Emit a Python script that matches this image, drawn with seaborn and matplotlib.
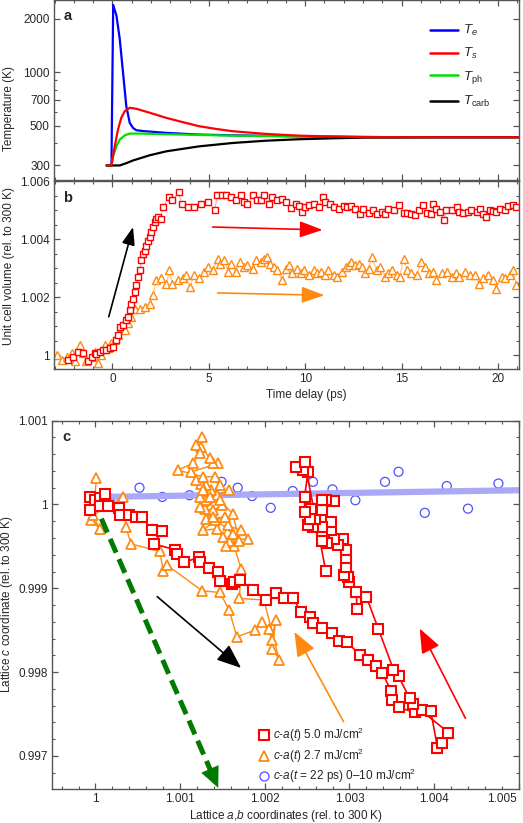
import numpy as np
import pandas as pd
import matplotlib
matplotlib.use("Agg")
import matplotlib.pyplot as plt
import matplotlib.transforms as mtransforms
from matplotlib.lines import Line2D
from matplotlib.ticker import FixedLocator, MultipleLocator, NullFormatter
import seaborn as sns

sns.set_style("ticks")
plt.rcParams['font.family'] = ['Liberation Sans', 'DejaVu Sans']
plt.rcParams['mathtext.fontset'] = 'custom'
plt.rcParams['mathtext.rm'] = 'Liberation Sans'
plt.rcParams['mathtext.it'] = 'Liberation Sans:italic'
plt.rcParams['mathtext.bf'] = 'Liberation Sans:bold'

# ---- panel a: temperatures (K) vs time delay (ps)
te_t = [-0.3, -0.05, 0.04, 0.21, 0.38, 0.55, 0.72, 0.9, 1.07, 1.24, 1.58, 2.79, 4.5, 6.2, 9.7, 14.8, 21.1]
te_T = [300, 300, 2390, 2080, 1540, 997, 646, 520, 487, 473, 468, 457, 447, 443, 437, 432, 432]
ts_t = [-0.3, -0.05, 0.12, 0.29, 0.46, 0.64, 0.9, 1.24, 1.93, 2.79, 3.65, 4.5, 5.37, 6.23, 7.95, 9.68, 11.4, 13.1, 21.1]
ts_T = [300, 300, 384, 477, 555, 605, 632, 624, 593, 555, 525, 498, 481, 467, 451, 441, 436, 432, 432]
tph_t = [-0.3, -0.05, 0.03, 0.21, 0.38, 0.64, 0.9, 1.41, 2.79, 6.23, 9.68, 14.8, 21.1]
tph_T = [300, 300, 337, 384, 419, 443, 453, 453, 449, 441, 436, 432, 432]
tc_t = [-0.3, -0.05, 0.38, 0.72, 1.07, 1.93, 2.79, 4.5, 6.23, 7.95, 9.68, 11.4, 13.1, 16.6, 21.1]
tc_T = [300, 300, 300, 309, 320, 342, 360, 384, 401, 413, 421, 426, 430, 432, 432]
temp_labels = [r"$T_e$", r"$T_s$", r"$T_{\rm ph}$", r"$T_{\rm carb}$"]

# ---- panel b: unit cell volume vs time delay
red_t = [-2.30, -2.03, -1.77, -1.50, -1.26, -1.08, -0.90, -0.83, -0.65, -0.48, -0.31, -0.14, 0.03,
         0.20, 0.30, 0.41, 0.55, 0.69, 0.80, 0.90, 0.98, 1.07, 1.15, 1.24, 1.33, 1.41, 1.50, 1.58,
         1.67, 1.76, 1.84, 1.93, 2.00, 2.10, 2.19, 2.27, 2.36, 2.53, 2.60, 2.96, 3.10, 3.43, 3.60,
         3.90, 4.25, 4.60, 4.95, 5.30, 5.45, 5.70, 5.90, 6.15, 6.40, 6.66, 6.84, 7.00, 7.27, 7.50,
         7.70, 7.87, 8.10, 8.30, 8.56, 8.80, 9.00, 9.25, 9.50, 9.70, 9.85, 10.00, 10.20, 10.45,
         10.70, 10.90, 11.05, 11.30, 11.50, 11.75, 12.00, 12.17, 12.40, 12.60, 12.86, 13.00, 13.30,
         13.50, 13.70, 14.00, 14.15, 14.30, 14.60, 14.85, 15.10, 15.30, 15.50, 15.70, 15.90, 16.10,
         16.30, 16.50, 16.65, 16.80, 17.00, 17.20, 17.30, 17.60, 17.85, 18.00, 18.20, 18.45, 18.60,
         18.90, 19.06, 19.20, 19.40, 19.60, 19.75, 19.90, 20.10, 20.35, 20.50, 20.80, 20.95]
red_V = [0.99984, 0.99995, 1.00013, 1.00009, 0.99979, 0.99995, 1.00009, 1.00005, 1.00013, 1.00018,
         1.00018, 1.00024, 1.00030, 1.00053, 1.00070, 1.00098, 1.00104, 1.00121, 1.00132, 1.00155,
         1.00178, 1.00195, 1.00218, 1.00241, 1.00270, 1.00293, 1.00327, 1.00350, 1.00361, 1.00378,
         1.00395, 1.00407, 1.00424, 1.00442, 1.00459, 1.00471, 1.00476, 1.00471, 1.00511, 1.00545,
         1.00534, 1.00562, 1.00522, 1.00511, 1.00511, 1.00522, 1.00528, 1.00502, 1.00551, 1.00551,
         1.00554, 1.00545, 1.00536, 1.00551, 1.00528, 1.00522, 1.00551, 1.00534, 1.00534, 1.00551,
         1.00522, 1.00545, 1.00534, 1.00540, 1.00528, 1.00508, 1.00522, 1.00516, 1.00494, 1.00511,
         1.00519, 1.00522, 1.00511, 1.00545, 1.00528, 1.00522, 1.00511, 1.00505, 1.00513, 1.00511,
         1.00516, 1.00505, 1.00488, 1.00505, 1.00490, 1.00502, 1.00488, 1.00494, 1.00488, 1.00505,
         1.00499, 1.00517, 1.00490, 1.00490, 1.00488, 1.00484, 1.00499, 1.00517, 1.00490, 1.00488,
         1.00522, 1.00505, 1.00494, 1.00465, 1.00499, 1.00499, 1.00511, 1.00494, 1.00490, 1.00494,
         1.00499, 1.00494, 1.00505, 1.00488, 1.00476, 1.00499, 1.00497, 1.00494, 1.00505, 1.00502,
         1.00513, 1.00517, 1.00511]
org_t = [-2.90, -2.63, -2.38, -2.10, -1.95, -1.70, -1.50, -1.35, -1.08, -0.90, -0.74, -0.57, -0.40,
         -0.22, -0.05, 0.12, 0.30, 0.46, 0.64, 0.80, 0.98, 1.15, 1.41, 1.67, 1.93, 2.10, 2.27, 2.53,
         2.80, 2.96, 3.10, 3.40, 3.65, 3.80, 4.00, 4.25, 4.50, 4.77, 4.95, 5.20, 5.46, 5.60, 5.80,
         6.00, 6.15, 6.40, 6.60, 6.85, 7.00, 7.27, 7.44, 7.70, 7.87, 8.00, 8.20, 8.40, 8.56, 8.80,
         9.00, 9.16, 9.33, 9.60, 9.76, 9.93, 10.20, 10.45, 10.60, 10.80, 11.05, 11.20, 11.50, 11.65,
         11.90, 12.10, 12.26, 12.40, 12.60, 12.80, 12.95, 13.10, 13.30, 13.46, 13.70, 13.90, 14.15,
         14.30, 14.50, 14.75, 14.90, 15.10, 15.27, 15.50, 15.80, 16.00, 16.20, 16.40, 16.65, 16.80,
         17.10, 17.35, 17.60, 17.80, 18.00, 18.30, 18.55, 18.80, 19.00, 19.20, 19.50, 19.75, 19.90,
         20.20, 20.35, 20.60, 20.80, 20.95]
org_V = [1.00001, 0.99984, 0.99995, 1.00007, 0.99982, 1.00036, 1.00007, 0.99979, 0.99995, 1.00013,
         0.99975, 1.00001, 1.00036, 1.00024, 1.00041, 1.00053, 1.00070, 1.00098, 1.00087, 1.00110,
         1.00133, 1.00161, 1.00161, 1.00167, 1.00178, 1.00207, 1.00259, 1.00265, 1.00247, 1.00293,
         1.00247, 1.00259, 1.00265, 1.00276, 1.00236, 1.00276, 1.00265, 1.00288, 1.00305, 1.00293,
         1.00333, 1.00316, 1.00328, 1.00288, 1.00316, 1.00288, 1.00322, 1.00305, 1.00311, 1.00299,
         1.00328, 1.00322, 1.00333, 1.00339, 1.00316, 1.00305, 1.00293, 1.00259, 1.00299, 1.00311,
         1.00282, 1.00299, 1.00282, 1.00293, 1.00276, 1.00293, 1.00282, 1.00288, 1.00276, 1.00293,
         1.00276, 1.00270, 1.00288, 1.00305, 1.00311, 1.00322, 1.00311, 1.00316, 1.00305, 1.00282,
         1.00299, 1.00339, 1.00293, 1.00305, 1.00270, 1.00282, 1.00293, 1.00276, 1.00270, 1.00333,
         1.00293, 1.00282, 1.00276, 1.00322, 1.00305, 1.00282, 1.00288, 1.00259, 1.00282, 1.00288,
         1.00270, 1.00282, 1.00270, 1.00288, 1.00276, 1.00276, 1.00247, 1.00265, 1.00276, 1.00259,
         1.00230, 1.00270, 1.00265, 1.00276, 1.00293, 1.00242]

# ---- panel c: lattice c vs lattice a,b
hi_a = [0.99993, 0.99999, 0.99993, 1.00005, 1.00011, 1.00005, 1.00015, 1.00028, 1.00029, 1.00040,
        1.00048, 1.00055, 1.00067, 1.00078, 1.00069, 1.00094, 1.00096, 1.00105, 1.00122, 1.00123,
        1.00134, 1.00145, 1.00147, 1.00161, 1.00164, 1.00171, 1.00186, 1.00202, 1.00213, 1.00223,
        1.00233, 1.00243, 1.00253, 1.00257, 1.00268, 1.00279, 1.00288, 1.00297, 1.00313, 1.00322,
        1.00331, 1.00339, 1.00349, 1.00350, 1.00358, 1.00377, 1.00386, 1.00396, 1.00404, 1.00409,
        1.00417, 1.00375, 1.00371, 1.00358, 1.00352, 1.00334, 1.00320, 1.00309, 1.00308, 1.00299,
        1.00298, 1.00294, 1.00296, 1.00296, 1.00296, 1.00292, 1.00286, 1.00282, 1.00274, 1.00278,
        1.00268, 1.00267, 1.00278, 1.00267, 1.00257, 1.00251, 1.00259, 1.00253, 1.00267, 1.00282,
        1.00272, 1.00267, 1.00255, 1.00247, 1.00247, 1.00251, 1.00245, 1.00237, 1.00247, 1.00272]
hi_c = [1.00009, 1.00005, 0.99993, 1.00008, 1.00012, 0.99998, 0.99998, 0.99996, 0.99988, 0.99988,
        0.99985, 0.99985, 0.99969, 0.99968, 0.99953, 0.99946, 0.99941, 0.99931, 0.99937, 0.99931,
        0.99924, 0.99919, 0.99909, 0.99905, 0.99908, 0.99910, 0.99898, 0.99886, 0.99894, 0.99888,
        0.99888, 0.99872, 0.99866, 0.99859, 0.99853, 0.99847, 0.99837, 0.99836, 0.99820, 0.99814,
        0.99807, 0.99799, 0.99778, 0.99767, 0.99758, 0.99752, 0.99755, 0.99754, 0.99710, 0.99715,
        0.99728, 0.99762, 0.99769, 0.99795, 0.99803, 0.99852, 0.99890, 0.99875, 0.99895, 0.99907,
        0.99914, 0.99916, 0.99926, 0.99936, 0.99946, 0.99959, 0.99952, 0.99959, 0.99954, 0.99969,
        0.99963, 0.99956, 0.99979, 0.99973, 0.99973, 0.99975, 0.99983, 0.99983, 0.99994, 1.00004,
        1.00005, 1.00005, 0.99995, 0.99991, 1.00009, 1.00039, 1.00041, 1.00045, 1.00051, 0.99921]
lo_a = [1.00001, 0.99999, 0.99995, 1.00005, 0.99997, 1.00033, 1.00036, 1.00042, 1.00076, 1.00080,
        1.00084, 1.00126, 1.00147, 1.00158, 1.00167, 1.00188, 1.00197, 1.00205, 1.00208, 1.00213,
        1.00209, 1.00217, 1.00199, 1.00170, 1.00172, 1.00164, 1.00158, 1.00180, 1.00172, 1.00156,
        1.00151, 1.00143, 1.00127, 1.00141, 1.00153, 1.00131, 1.00149, 1.00139, 1.00129, 1.00158,
        1.00143, 1.00131, 1.00123, 1.00137, 1.00131, 1.00125, 1.00119, 1.00113, 1.00145, 1.00139,
        1.00135, 1.00125, 1.00119, 1.00126, 1.00123, 1.00115, 1.00097, 1.00127, 1.00141, 1.00147,
        1.00135, 1.00123, 1.00139, 1.00162, 1.00154, 1.00170, 1.00162, 1.00147, 1.00127]
lo_c = [1.00031, 1.00005, 0.99981, 0.99971, 0.99987, 1.00009, 0.99973, 0.99953, 0.99944, 0.99921,
        0.99928, 0.99897, 0.99895, 0.99874, 0.99842, 0.99850, 0.99860, 0.99851, 0.99838, 0.99862,
        0.99828, 0.99815, 0.99886, 0.99888, 0.99923, 0.99950, 0.99957, 0.99959, 0.99969, 0.99975,
        0.99961, 0.99971, 0.99969, 0.99981, 0.99985, 0.99983, 0.99999, 0.99993, 0.99995, 1.00017,
        1.00011, 1.00005, 1.00009, 1.00017, 1.00023, 1.00025, 1.00029, 1.00039, 1.00049, 1.00049,
        1.00055, 1.00069, 1.00071, 1.00081, 1.00061, 1.00049, 1.00041, 1.00033, 1.00033, 1.00023,
        1.00009, 0.99997, 0.99985, 0.99965, 0.99950, 0.99957, 0.99989, 1.00005, 1.00017]
eq_a = [1.00017, 1.00025, 1.00052, 1.00079, 1.00111, 1.00149, 1.00168, 1.00185, 1.00207, 1.00233,
        1.00257, 1.00280, 1.00307, 1.00342, 1.00358, 1.00389, 1.00415, 1.00440, 1.00476]
eq_c = [1.00007, 1.00005, 1.00020, 1.00009, 1.00011, 1.00027, 1.00020, 1.00010, 0.99996, 1.00016,
        1.00027, 1.00018, 1.00005, 1.00027, 1.00039, 0.99990, 1.00022, 0.99995, 1.00025]
fit_a = [1.00009, 1.00502]
fit_c = [1.00009, 1.00017]
ca_labels = [r"$c$-$a$($t$) 5.0 mJ/cm$^2$", r"$c$-$a$($t$) 2.7 mJ/cm$^2$",
             r"$c$-$a$($t$ = 22 ps) 0–10 mJ/cm$^2$"]

RED = '#ff0000'
ORG = '#ff8a12'
BLUE = '#5050ff'
FS = 8.5

fig = plt.figure(figsize=(5.23, 8.23), dpi=100)
ax_a = fig.add_axes([54/523, 0.7807, 465/523, 0.2187])
ax_b = fig.add_axes([54/523, 0.5516, 465/523, 0.2290], sharex=ax_a)
ax_c = fig.add_axes([52.3/523, 0.0410, 466.7/523, 0.4479])


def frame(ax):
    for s in ax.spines.values():
        s.set_color('#555555')
        s.set_linewidth(1.0)
    ax.tick_params(which='both', direction='in', top=True, right=True, color='#555555',
                   labelsize=FS, pad=3)
    ax.tick_params(which='major', length=4, width=0.9)
    ax.tick_params(which='minor', length=2.5, width=0.8)


# a) temperatures
sns.lineplot(x=te_t, y=te_T, ax=ax_a, color='#0000ff', lw=1.6, sort=False, estimator=None)
sns.lineplot(x=tph_t, y=tph_T, ax=ax_a, color='#00e000', lw=1.6, sort=False, estimator=None)
sns.lineplot(x=tc_t, y=tc_T, ax=ax_a, color='black', lw=1.6, sort=False, estimator=None)
sns.lineplot(x=ts_t, y=ts_T, ax=ax_a, color='#ff0000', lw=1.6, sort=False, estimator=None)
ax_a.set_yscale('log')
ax_a.set_ylim(247, 2530)
ax_a.set_xlim(-3.03, 21.09)
ax_a.yaxis.set_major_locator(FixedLocator([300, 500, 700, 1000, 2000]))
ax_a.yaxis.set_minor_locator(FixedLocator([400, 600, 800, 900]))
ax_a.yaxis.set_major_formatter(matplotlib.ticker.FixedFormatter(['300', '500', '700', '1000', '2000']))
ax_a.yaxis.set_minor_formatter(NullFormatter())
ax_a.xaxis.set_major_locator(MultipleLocator(5))
ax_a.xaxis.set_minor_locator(MultipleLocator(1))
frame(ax_a)
ax_a.tick_params(labelbottom=False)
ax_a.set_ylabel("Temperature (K)", fontsize=FS)
ax_a.yaxis.set_label_coords(-0.083, 0.40)
ax_a.text(0.02, 0.915, "a", transform=ax_a.transAxes, fontsize=10.5, fontweight='bold', va='center')
hand = [Line2D([], [], color=c, lw=1.8) for c in ['#0000ff', '#ff0000', '#00e000', 'black']]
ax_a.legend(hand, temp_labels, loc='upper right', bbox_to_anchor=(0.965, 0.94), frameon=False,
            fontsize=9.5, handlelength=2.1, labelspacing=0.6, handletextpad=0.4)

# b) unit cell volume
sns.lineplot(x=org_t, y=org_V, ax=ax_b, color='#ffc58a', lw=0.8, sort=False, estimator=None,
             marker='^', ms=5.5, mfc='white', mec=ORG, mew=1.0)
sns.lineplot(x=red_t, y=red_V, ax=ax_b, color='#ffa8a8', lw=0.8, sort=False, estimator=None,
             marker='s', ms=4.5, mfc='white', mec=RED, mew=1.0)
ax_b.set_ylim(0.99953, 1.00602)
ax_b.yaxis.set_major_locator(FixedLocator([1.0, 1.002, 1.004, 1.006]))
ax_b.yaxis.set_major_formatter(matplotlib.ticker.FixedFormatter(['1', '1.002', '1.004', '1.006']))
ax_b.yaxis.set_minor_locator(MultipleLocator(0.0005))
frame(ax_b)
ax_b.set_xlabel("Time delay (ps)", fontsize=FS)
ax_b.xaxis.set_label_coords(0.542, -0.105)
ax_b.set_ylabel("Unit cell volume (rel. to 300 K)", fontsize=FS)
ax_b.yaxis.set_label_coords(-0.083, 0.545)
ax_b.text(0.02, 0.905, "b", transform=ax_b.transAxes, fontsize=10.5, fontweight='bold', va='center')
ax_b.annotate('', xy=(1.07, 1.00442), xytext=(-0.19, 1.00133),
              arrowprops=dict(arrowstyle='-|>,head_length=0.6,head_width=0.22', color='black',
                              lw=1.2, mutation_scale=18, shrinkA=0, shrinkB=0))
ax_b.annotate('', xy=(10.9, 1.00432), xytext=(5.2, 1.00442),
              arrowprops=dict(arrowstyle='-|>,head_length=0.7,head_width=0.25', color=RED,
                              lw=1.2, mutation_scale=20, shrinkA=0, shrinkB=0))
ax_b.annotate('', xy=(11.0, 1.00207), xytext=(5.46, 1.00215),
              arrowprops=dict(arrowstyle='-|>,head_length=0.7,head_width=0.25', color=ORG,
                              lw=1.2, mutation_scale=20, shrinkA=0, shrinkB=0))

# c) lattice coordinates
sns.lineplot(x=fit_a, y=fit_c, ax=ax_c, color='#a9a9f7', lw=4.5, sort=False, estimator=None)
sns.scatterplot(x=eq_a, y=eq_c, ax=ax_c, marker='o', s=42, facecolor='none', edgecolor=BLUE,
                linewidth=0.9)
sns.lineplot(x=lo_a, y=lo_c, ax=ax_c, color=ORG, lw=1.0, sort=False, estimator=None,
             marker='^', ms=7, mfc='white', mec=ORG, mew=1.3)
sns.lineplot(x=hi_a, y=hi_c, ax=ax_c, color=RED, lw=1.2, sort=False, estimator=None,
             marker='s', ms=6.5, mfc='white', mec=RED, mew=1.5)

# green dashed guide with head
ax_c.plot([1.00007, 1.00138], [0.99983, 0.99678], color='#007a00', lw=3.6, dashes=(3, 1.4),
          solid_capstyle='butt', dash_capstyle='butt')
ax_c.annotate('', xy=(1.00145, 0.99662), xytext=(1.00138, 0.99678),
              arrowprops=dict(arrowstyle='-|>,head_length=0.7,head_width=0.32', color='#007a00',
                              lw=0.5, mutation_scale=20, shrinkA=0, shrinkB=0))
ax_c.annotate('', xy=(1.00172, 0.99805), xytext=(1.00073, 0.99890),
              arrowprops=dict(arrowstyle='-|>,head_length=0.75,head_width=0.3', color='black',
                              lw=1.2, mutation_scale=20, shrinkA=0, shrinkB=0))
ax_c.annotate('', xy=(1.00235, 0.99848), xytext=(1.00293, 0.99741),
              arrowprops=dict(arrowstyle='-|>,head_length=0.75,head_width=0.3', color=ORG,
                              lw=1.2, mutation_scale=20, shrinkA=0, shrinkB=0))
ax_c.annotate('', xy=(1.00383, 0.99852), xytext=(1.00437, 0.99745),
              arrowprops=dict(arrowstyle='-|>,head_length=0.75,head_width=0.3', color=RED,
                              lw=1.2, mutation_scale=20, shrinkA=0, shrinkB=0))

ax_c.set_xlim(0.99949, 1.005003)
ax_c.set_ylim(0.996603, 1.001)
ax_c.xaxis.set_major_locator(FixedLocator([1.0, 1.001, 1.002, 1.003, 1.004, 1.005]))
ax_c.xaxis.set_major_formatter(matplotlib.ticker.FixedFormatter(
    ['1', '1.001', '1.002', '1.003', '1.004', '1.005']))
ax_c.xaxis.set_minor_locator(MultipleLocator(0.0002))
ax_c.yaxis.set_major_locator(FixedLocator([0.997, 0.998, 0.999, 1.0, 1.001]))
ax_c.yaxis.set_major_formatter(matplotlib.ticker.FixedFormatter(
    ['0.997', '0.998', '0.999', '1', '1.001']))
ax_c.yaxis.set_minor_locator(MultipleLocator(0.0002))
frame(ax_c)
ax_c.set_xlabel(r"Lattice $a$,$b$ coordinates (rel. to 300 K)", fontsize=FS)
ax_c.xaxis.set_label_coords(0.501, -0.05)
ax_c.set_ylabel(r"Lattice $c$ coordinate (rel. to 300 K)", fontsize=FS)
ax_c.yaxis.set_label_coords(-0.080, 0.503)
ax_c.text(0.022, 0.955, "c", transform=ax_c.transAxes, fontsize=10.5, fontweight='bold', va='center')

# shift the last x tick label inside the figure
offset = mtransforms.ScaledTranslation(-0.17, 0, fig.dpi_scale_trans)
lab = ax_c.get_xticklabels()[-1]
lab.set_transform(lab.get_transform() + offset)

leg_h = [Line2D([], [], ls='', marker='s', ms=7, mfc='white', mec=RED, mew=1.5),
         Line2D([], [], ls='', marker='^', ms=7.5, mfc='white', mec=ORG, mew=1.3),
         Line2D([], [], ls='', marker='o', ms=6.5, mfc='none', mec=BLUE, mew=0.9)]
ax_c.legend(leg_h, ca_labels, loc='lower left', bbox_to_anchor=(0.418, -0.018), frameon=False,
            fontsize=FS, handlelength=1.0, handletextpad=0.3, labelspacing=0.2)

fig.savefig("out.png", dpi=100)
